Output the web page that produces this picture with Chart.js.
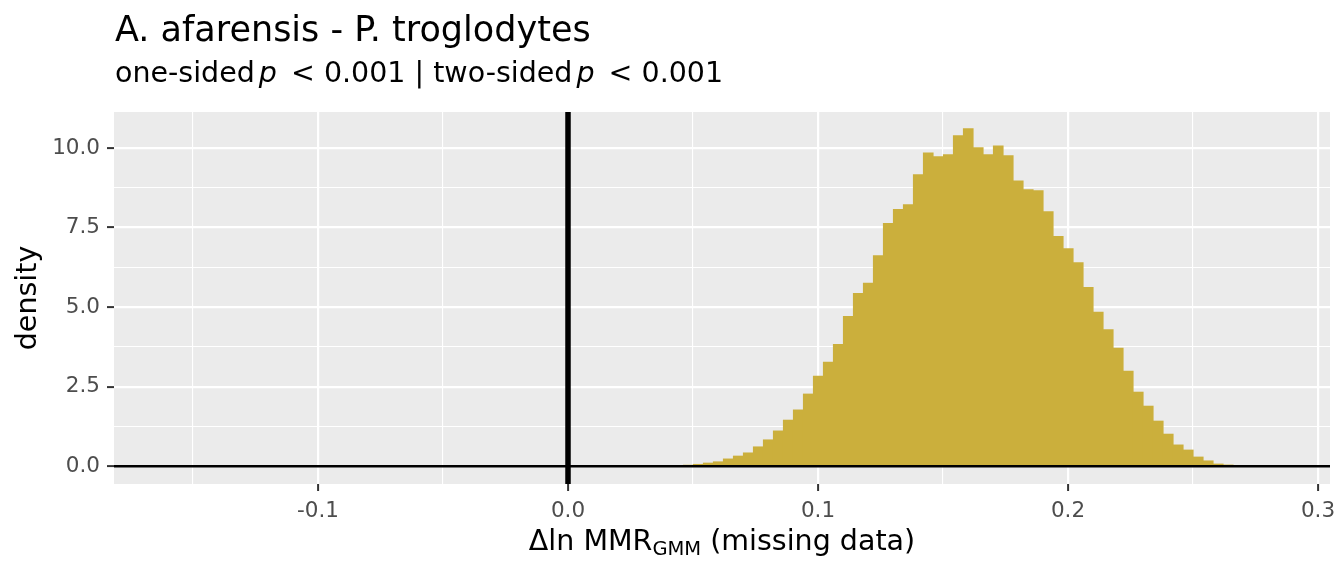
<!DOCTYPE html>
<html>
<head>
<meta charset="utf-8">
<script src="https://cdn.jsdelivr.net/npm/chart.js@4.4.1/dist/chart.umd.min.js"></script>
<style>
  html, body { margin: 0; padding: 0; background: #fff; }
  #wrap { width: 1344px; height: 576px; }
</style>
</head>
<body>
<div id="wrap"><canvas id="histChart" width="1344" height="576"></canvas></div>
<script>
// bin centres and densities
const binCentres = [
  0.0481, 0.0521, 0.0561, 0.0601, 0.0641, 0.0681, 0.0721, 0.0761, 0.0801, 0.0841,
  0.0881, 0.0921, 0.0961, 0.1001, 0.1041, 0.1081, 0.1121, 0.1161, 0.1201, 0.1241,
  0.1281, 0.1321, 0.1361, 0.1401, 0.1441, 0.1481, 0.1521, 0.1561, 0.1601, 0.1641,
  0.1681, 0.1721, 0.1761, 0.1801, 0.1841, 0.1881, 0.1921, 0.1961, 0.2001, 0.2041,
  0.2081, 0.2121, 0.2161, 0.2201, 0.2241, 0.2281, 0.2321, 0.2361, 0.2401, 0.2441,
  0.2481, 0.2521, 0.2561, 0.2601, 0.2641
]
const densities = [
  0.03, 0.06, 0.10, 0.14, 0.23, 0.32, 0.42, 0.61, 0.83, 1.11,
  1.45, 1.77, 2.27, 2.83, 3.27, 3.83, 4.71, 5.43, 5.75, 6.62,
  7.63, 8.07, 8.22, 9.16, 9.85, 9.73, 9.79, 10.39, 10.61, 10.01,
  9.79, 10.07, 9.76, 8.97, 8.69, 8.66, 8.00, 7.22, 6.84, 6.40,
  5.62, 4.84, 4.29, 3.71, 2.99, 2.33, 1.89, 1.42, 1.01, 0.67,
  0.51, 0.29, 0.17, 0.07, 0.04
]
const xMajorTicks = [-0.1, 0.0, 0.1, 0.2, 0.3]
const xTickLabels = ['-0.1', '0.0', '0.1', '0.2', '0.3']
const yMajorTicks = [0, 2.5, 5, 7.5, 10]
const yTickLabels = ['0.0', '2.5', '5.0', '7.5', '10.0']
const refX = 0
const refY = 0

const titleText = 'A. afarensis - P. troglodytes'
const FONT = '"DejaVu Sans", sans-serif'

const points = binCentres.map((x, i) => ({x: x, y: densities[i]}))

function majorIndex(list, v) {
    for (let i = 0; i < list.length; i++) {
        if (Math.abs(list[i] - v) < 1e-6) return i
    }
    return -1
}

function isMajor(list, c) {
    return c && c.tick ? majorIndex(list, c.tick.value) >= 0 : false
}

const panelPlugin = {
    id: 'panel',
    beforeDraw(chart) {
        const a = chart.chartArea
        const ctx = chart.ctx
        ctx.save()
        ctx.fillStyle = '#EBEBEB'
        ctx.fillRect(a.left, a.top, a.right - a.left, a.bottom - a.top)
        ctx.restore()
    },
    afterDatasetsDraw(chart) {
        const a = chart.chartArea
        const ctx = chart.ctx
        const xs = chart.scales.x, ys = chart.scales.y
        ctx.save()
        ctx.strokeStyle = '#000'
        // horizontal line at 0
        const py = ys.getPixelForValue(refY)
        ctx.lineWidth = 2.5
        ctx.beginPath()
        ctx.moveTo(a.left, py)
        ctx.lineTo(a.right, py)
        ctx.stroke()
        // vertical line at 0
        const px = xs.getPixelForValue(refX)
        ctx.lineWidth = 5.5
        ctx.beginPath()
        ctx.moveTo(px, a.top)
        ctx.lineTo(px, a.bottom)
        ctx.stroke()
        ctx.restore()
    },
    afterDraw(chart) {
        const a = chart.chartArea
        const ctx = chart.ctx
        ctx.save()
        ctx.fillStyle = '#000'
        ctx.textBaseline = 'alphabetic'
        ctx.textAlign = 'left'

        // title
        ctx.font = '35px ' + FONT
        ctx.fillText(titleText, a.left + 1, 41)

        // subtitle with italic p (plotmath spacing)
        let x = a.left + 1
        const y = 81.5
        const parts = [
            ['one-sided', false, 4], ['p', true, 5], [' < 0.001 | two-sided', false, 4],
            ['p', true, 5], [' < 0.001', false, 0]
        ]
        for (const [t, it, gap] of parts) {
            ctx.font = (it ? 'italic ' : '') + '28.5px ' + FONT
            ctx.fillText(t, x, y)
            x += ctx.measureText(t).width + gap
        }

        // x axis title with subscript
        const main1 = '\u0394ln MMR'
        const sub = 'GMM'
        const main2 = ' (missing data)'
        ctx.font = '28.5px ' + FONT
        const w1 = ctx.measureText(main1).width
        const w3 = ctx.measureText(main2).width
        ctx.font = '19.5px ' + FONT
        const w2 = ctx.measureText(sub).width
        const total = w1 + w2 + w3
        let sx = (a.left + a.right) / 2 - total / 2
        const by = 550
        ctx.font = '28.5px ' + FONT
        ctx.fillText(main1, sx, by)
        sx += w1
        ctx.font = '19.5px ' + FONT
        ctx.fillText(sub, sx, by + 5)
        sx += w2
        ctx.font = '28.5px ' + FONT
        ctx.fillText(main2, sx, by)
        ctx.restore()
    }
}

var ctx_hist = document.getElementById('histChart').getContext('2d')
var histChart = new Chart(ctx_hist, {
    type: 'bar',
    data: {
        datasets: [{
            label: 'density',
            data: points,
            backgroundColor: '#CBAF3C',
            borderWidth: 0,
            barPercentage: 1.0,
            categoryPercentage: 1.0
        }]
    },
    options: {
        responsive: false,
        animation: false,
        events: [],
        layout: {
            padding: {top: 112, right: 14, bottom: 0, left: 0}
        },
        plugins: {
            legend: {display: false},
            tooltip: {enabled: false},
            title: {display: false}
        },
        scales: {
            x: {
                type: 'linear',
                min: -0.1816,
                max: 0.3048,
                offset: false,
                afterFit(scale) { scale.height = 92 },
                border: {display: false},
                grid: {
                    offset: false,
                    color: '#FFFFFF',
                    lineWidth: c => isMajor(xMajorTicks, c) ? 2.2 : 1.1,
                    tickColor: c => isMajor(xMajorTicks, c) ? '#333333' : 'rgba(0,0,0,0)',
                    tickWidth: 2,
                    tickLength: 7,
                    drawTicks: true
                },
                ticks: {
                    stepSize: 0.05,
                    includeBounds: false,
                    autoSkip: false,
                    maxRotation: 0,
                    padding: 8,
                    color: '#4D4D4D',
                    font: {family: 'DejaVu Sans', size: 21.5},
                    callback: function(v) {
                        const i = majorIndex(xMajorTicks, v)
                        return i >= 0 ? xTickLabels[i] : ''
                    }
                }
            },
            y: {
                type: 'linear',
                min: -0.56,
                max: 11.13,
                afterFit(scale) { scale.width = 114 },
                border: {display: false},
                grid: {
                    color: '#FFFFFF',
                    lineWidth: c => isMajor(yMajorTicks, c) ? 2.2 : 1.1,
                    tickColor: c => isMajor(yMajorTicks, c) ? '#333333' : 'rgba(0,0,0,0)',
                    tickWidth: 2,
                    tickLength: 7,
                    drawTicks: true
                },
                ticks: {
                    stepSize: 1.25,
                    includeBounds: false,
                    autoSkip: false,
                    padding: 7,
                    color: '#4D4D4D',
                    font: {family: 'DejaVu Sans', size: 21.5},
                    callback: function(v) {
                        const i = majorIndex(yMajorTicks, v)
                        return i >= 0 ? yTickLabels[i] : ''
                    }
                },
                title: {
                    display: true,
                    text: 'density',
                    color: '#000000',
                    font: {family: 'DejaVu Sans', size: 28.5},
                    padding: {top: 11, bottom: 0}
                }
            }
        }
    },
    plugins: [panelPlugin]
})
</script>
</body>
</html>
